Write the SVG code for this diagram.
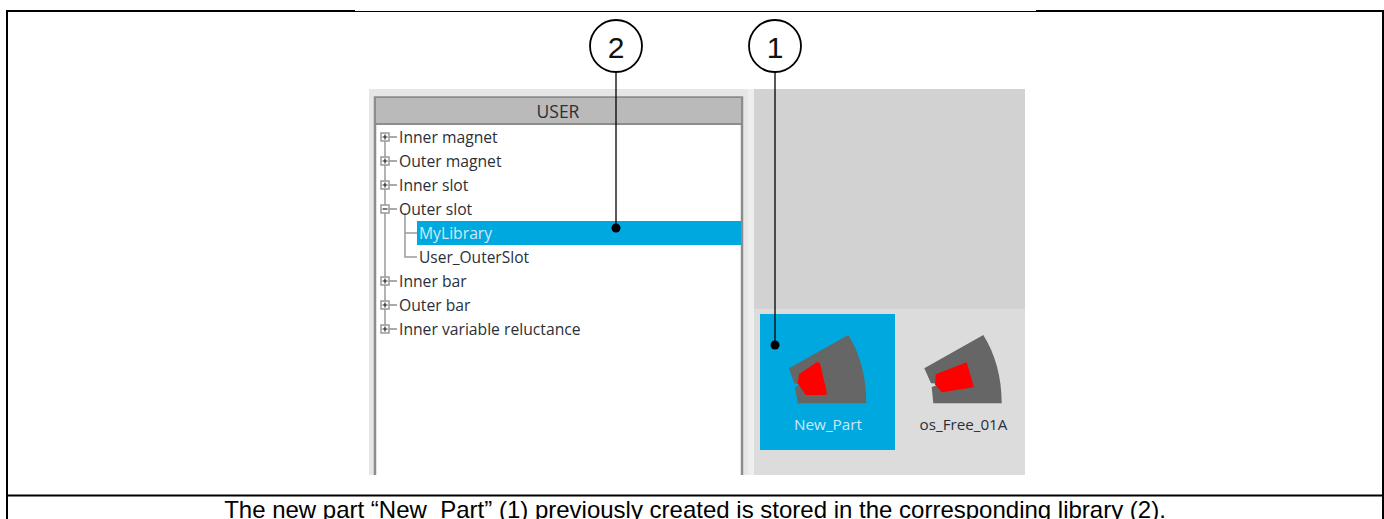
<svg xmlns="http://www.w3.org/2000/svg" width="1384" height="519" viewBox="0 0 1384 519">
<style>
.t{font-family:"Open Sans","Noto Sans",sans-serif;font-size:15.700px;fill:#2a2f38}
.w{fill:#cfe9f5}
.c{font-family:"Liberation Sans",Arial,sans-serif;font-size:24px;fill:#000}
.num{font-family:"Liberation Sans",Arial,sans-serif;font-size:30px;fill:#111;text-anchor:middle}
.tree{stroke:#9a9a9a;stroke-width:1.500;fill:none}
.hy{stroke:#555;stroke-width:1;fill:none}
.box{fill:#fff;stroke:#999;stroke-width:1.500}
.sym{stroke:#222;stroke-width:1.200;fill:none}
.lead{stroke:#000;stroke-width:1.300;fill:none}
.bub{fill:#fff;stroke:#000;stroke-width:1.800}
</style>
<defs>
<g id="plus"><rect class="box" x="-4" y="-4" width="8" height="8"/><path class="sym" d="M-2.500 0H2.500M0-2.500V2.500"/></g>
<g id="minus"><rect class="box" x="-4" y="-4" width="8" height="8"/><path class="sym" d="M-2.500 0H2.500"/></g>
</defs>
<rect width="1384" height="519" fill="#fff"/>
<g id="frame" fill="none" stroke="#000">
<path stroke-width="2" d="M6 11H355M1036 11H1384"/>
<path stroke-width="1" d="M355 11.500H1036"/>
<path stroke-width="2" d="M7 10V519M1383 10V519"/>
<path stroke-width="2" d="M7 495.500H1383"/>
</g>
<g id="screenshot">
<rect x="369" y="89" width="656" height="386" fill="#eeeeee"/>
<rect x="754" y="89" width="271" height="386" fill="#dcdcdc"/>
<rect x="754" y="89" width="271" height="220" fill="#d2d2d2"/>
<rect x="369" y="89" width="379" height="386" fill="#e6e6e6"/>
<rect x="375" y="97" width="367" height="378" fill="#fff"/>
<path d="M375 475V97.500H742V475" fill="none" stroke="#8c8c8c" stroke-width="2.500"/>
<rect x="376" y="98" width="365" height="25" fill="#bababa"/>
<path d="M375 124H742" stroke="#8c8c8c" stroke-width="2"/>
<text class="t" x="558" y="117.500" text-anchor="middle" style="font-size:17.500px">USER</text>
</g>
<g id="tree">
<path class="tree" d="M385 137V328M405 213V257H417M405 233H417"/>
<path class="hy" d="M389 137H397M389 161H397M389 185H397M389 209H397M389 281H397M389 305H397M389 329H397"/>
<use href="#plus" x="385" y="137"/><use href="#plus" x="385" y="161"/><use href="#plus" x="385" y="185"/><use href="#minus" x="385" y="209"/>
<use href="#plus" x="385" y="281"/><use href="#plus" x="385" y="305"/><use href="#plus" x="385" y="329"/>
<rect x="417" y="221" width="324" height="24" fill="#00a8e0"/>
<text class="t" x="399" y="142.500">Inner magnet</text>
<text class="t" x="399" y="166.500">Outer magnet</text>
<text class="t" x="399" y="190.500">Inner slot</text>
<text class="t" x="399" y="214.500">Outer slot</text>
<text class="t w" x="419" y="238.500">MyLibrary</text>
<text class="t" x="419" y="262.500" textLength="110" lengthAdjust="spacingAndGlyphs">User_OuterSlot</text>
<text class="t" x="399" y="286.500">Inner bar</text>
<text class="t" x="399" y="310.500">Outer bar</text>
<text class="t" x="399" y="334.500">Inner variable reluctance</text>
</g>
<g id="part-new">
<rect x="760" y="314" width="135" height="136" fill="#00a8e0"/>
<path d="M789 368.300L848.300 335C860 354 866.300 376 866.300 403.300H797.700L795 387.300L799 385L799 384L794.300 383.300Z" fill="#666"/>
<path d="M799 374.300L816.700 362.300Q819 362 820 363.300L826.700 391.700Q827 395 825 395H805.700L797.700 383.300Z" fill="#f00"/>
<text class="t w" x="828" y="430" text-anchor="middle" style="font-size:15.300px">New_Part</text>
</g>
<g id="part-os">
<path d="M924.300 368.300L983.300 335C995 354 1001.700 376 1001.700 403.300H933.300L931.700 387L936 385.500L936 383.500L931 383.300Z" fill="#666"/>
<path d="M935.700 374.300L966.700 362.300L974 387.300L941.700 392.300L935 384.300Z" fill="#f00"/>
<text class="t" x="963.500" y="430" text-anchor="middle" style="font-size:15.200px">os_Free_01A</text>
</g>
<g id="connectors">
<path class="lead" d="M616 72V228"/><circle cx="616" cy="228" r="4.500"/>
<path class="lead" d="M775 72V345"/><circle cx="775" cy="345" r="4.500"/>
</g>
<g id="callout-2"><circle class="bub" cx="616" cy="46" r="26"/><text class="num" x="616" y="58">2</text></g>
<g id="callout-1"><circle class="bub" cx="775" cy="46" r="26"/><text class="num" x="775" y="58">1</text></g>
<text class="c" x="695" y="518" text-anchor="middle">The new part “New_Part” (1) previously created is stored in the corresponding library (2).</text>
</svg>
